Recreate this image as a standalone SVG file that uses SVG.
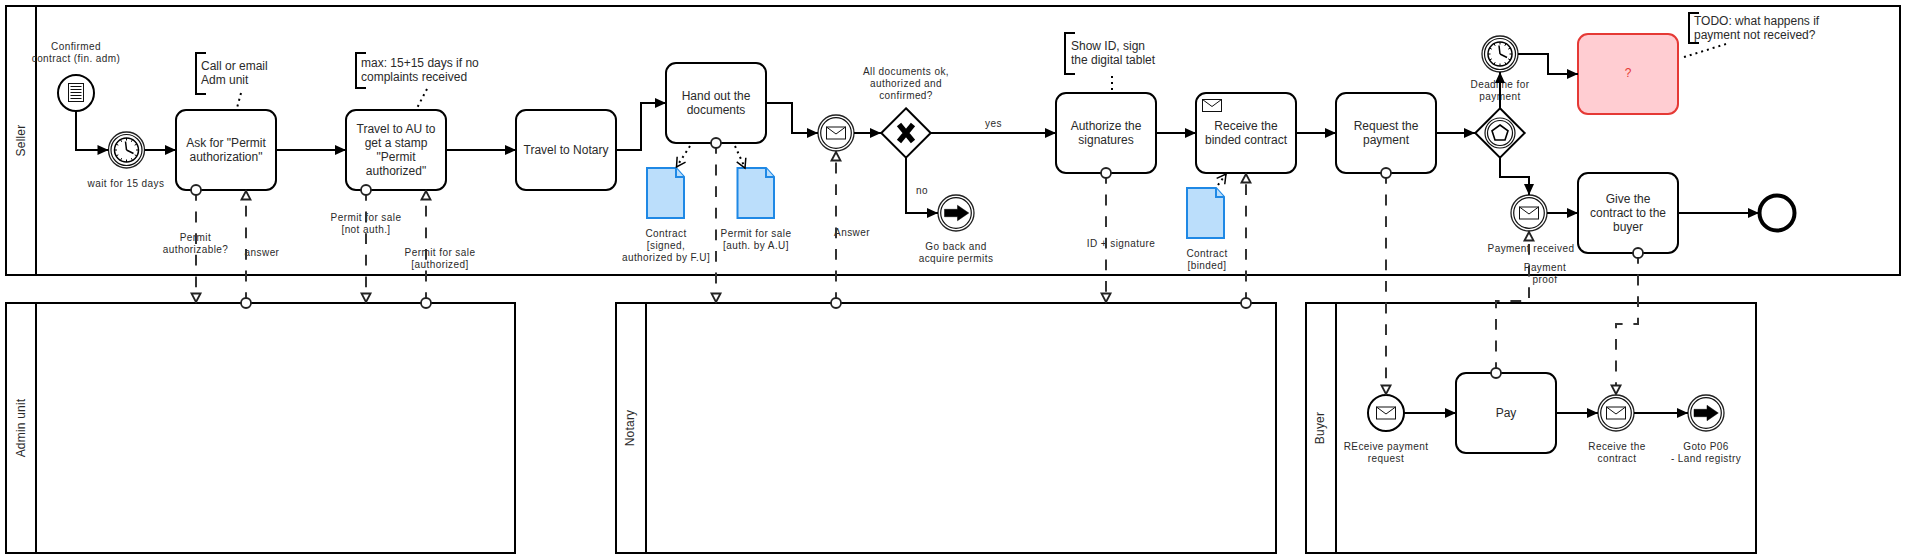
<svg xmlns="http://www.w3.org/2000/svg" xmlns:xlink="http://www.w3.org/1999/xlink" width="1906" height="559" viewBox="0 0 1906 559">
<style>
text{font-family:"Liberation Sans",Arial,sans-serif;fill:#2a2a2a}
.l{font-size:10px;text-anchor:middle;letter-spacing:.42px}
.t{font-size:12px;text-anchor:middle}
.a{font-size:12px}
.pl{font-size:12px;text-anchor:middle;letter-spacing:.2px}
.pool{fill:none;stroke:#000;stroke-width:2}
.task{fill:#fff;stroke:#000;stroke-width:2}
.ev{fill:#fff;stroke:#000;stroke-width:2}
.ie{fill:#fff;stroke:#222;stroke-width:1.3}
.in{fill:none;stroke:#111;stroke-width:1.2}
.seq{fill:none;stroke:#000;stroke-width:2;marker-end:url(#fill)}
.msg{fill:none;stroke:#333;stroke-width:2;stroke-dasharray:10.8 10.8;marker-end:url(#open)}
.dot{fill:none;stroke:#000;stroke-width:2;stroke-dasharray:2 4}
.dat{marker-end:url(#vee)}
.data{fill:#bbdefb;stroke:#1e88e5;stroke-width:2}
.ring{fill:#fff;stroke:#222;stroke-width:1.8}
.br{fill:none;stroke:#000;stroke-width:2}
</style>
<defs>
<marker id="fill" markerUnits="userSpaceOnUse" markerWidth="12" markerHeight="12" refX="11" refY="5" orient="auto" overflow="visible"><path d="M0 0L11 5L0 10z" fill="#000"/></marker>
<marker id="open" markerUnits="userSpaceOnUse" markerWidth="16" markerHeight="13" refX="11.500" refY="6.500" orient="auto" overflow="visible"><path d="M2 2L10.500 6.500L2 11z" fill="#fff" stroke="#222" stroke-width="1.800"/></marker>
<marker id="vee" markerUnits="userSpaceOnUse" markerWidth="14" markerHeight="14" refX="10" refY="6" orient="auto" overflow="visible"><path d="M1 1L10 6L1 11" fill="none" stroke="#000" stroke-width="1.500"/></marker>
<g id="env"><rect x="-9.500" y="-6" width="19" height="12" fill="#fff" stroke="#111" stroke-width="1"/><path d="M-9.500 -6L0 1L9.500 -6" fill="none" stroke="#111" stroke-width="1"/></g>
<g id="clock"><circle r="12" fill="#fff" stroke="#000" stroke-width="1.500"/><path stroke="#000" stroke-width="1" d="M0 -12V-9.500M0 12V9.500M-12 0H-9.500M12 0H9.500M6 -10.400L4.800 -8.200M-6 -10.400L-4.800 -8.200M6 10.400L4.800 8.200M-6 10.400L-4.800 8.200M10.400 6L8.200 4.800M-10.400 6L-8.200 4.800M10.400 -6L8.200 -4.800M-10.400 -6L-8.200 -4.800"/><path d="M0 0L-1 -8.500M0 0L7 3.500" fill="none" stroke="#000" stroke-width="1.500"/></g>
<path id="arrowi" d="M-12 -3.700H1V-7.700L12.300 0L1 7.700V3.700H-12z" fill="#000" stroke="#000" stroke-width=".5"/>
</defs>

<g id="pools">
<g id="pool-seller"><rect class="pool" x="6" y="6" width="1894" height="269"/><path class="pool" d="M36 6V275"/><text class="pl" transform="translate(24.500 140.500) rotate(-90)">Seller</text></g>
<g id="pool-admin"><rect class="pool" x="6" y="303" width="509" height="250"/><path class="pool" d="M36 303V553"/><text class="pl" transform="translate(24.500 428) rotate(-90)">Admin unit</text></g>
<g id="pool-notary"><rect class="pool" x="616" y="303" width="660" height="250"/><path class="pool" d="M646 303V553"/><text class="pl" transform="translate(634 428) rotate(-90)">Notary</text></g>
<g id="pool-buyer"><rect class="pool" x="1306" y="303" width="450" height="250"/><path class="pool" d="M1336 303V553"/><text class="pl" transform="translate(1324 428) rotate(-90)">Buyer</text></g>
</g>

<g id="start-confirmed"><circle class="ev" cx="76" cy="93" r="18"/><rect x="68.500" y="83.500" width="15" height="18" fill="#fff" stroke="#111"/><path d="M70.500 86.500H81.500M70.500 89.500H81.500M70.500 92.500H81.500M70.500 95.500H81.500M70.500 98.500H81.500" stroke="#111" fill="none"/><text class="l"><tspan x="76" y="50">Confirmed</tspan><tspan x="76" y="62">contract (fin. adm)</tspan></text></g>
<g id="timer-wait"><circle class="ie" cx="126.500" cy="150" r="18"/><circle class="in" cx="126.500" cy="150" r="15.500"/><use xlink:href="#clock" href="#clock" transform="translate(126.500 150)"/><text class="l" x="126" y="186.500">wait for 15 days</text></g>
<g id="task-ask"><rect class="task" x="176" y="110" width="100" height="80" rx="10"/><text class="t"><tspan x="226" y="147">Ask for "Permit</tspan><tspan x="226" y="161">authorization"</tspan></text></g>
<g id="task-travel-au"><rect class="task" x="346" y="110" width="100" height="80" rx="10"/><text class="t"><tspan x="396" y="133">Travel to AU to</tspan><tspan x="396" y="147">get a stamp</tspan><tspan x="396" y="161">"Permit</tspan><tspan x="396" y="175">authorized"</tspan></text></g>
<g id="task-travel-notary"><rect class="task" x="516" y="110" width="100" height="80" rx="10"/><text class="t" x="566" y="154">Travel to Notary</text></g>
<g id="task-hand-out"><rect class="task" x="666" y="63" width="100" height="80" rx="10"/><text class="t"><tspan x="716" y="100">Hand out the</tspan><tspan x="716" y="114">documents</tspan></text></g>
<g id="event-answer"><circle class="ie" cx="836" cy="133" r="18"/><circle class="in" cx="836" cy="133" r="15.300"/><use xlink:href="#env" href="#env" transform="translate(836 133)"/></g>
<g id="gateway-docs"><path class="ev" d="M906 108.300L930.700 133L906 157.700L881.300 133z"/><path d="M899 124.500L913 141.500M913 124.500L899 141.500" fill="none" stroke="#000" stroke-width="5.500"/><text class="l"><tspan x="906" y="74.500">All documents ok,</tspan><tspan x="906" y="86.500">authorized and</tspan><tspan x="906" y="98.500">confirmed?</tspan></text></g>
<g id="event-goback"><circle class="ie" cx="956" cy="213" r="18"/><circle class="in" cx="956" cy="213" r="15.300"/><use xlink:href="#arrowi" href="#arrowi" transform="translate(956.500 213)"/><text class="l"><tspan x="956" y="249.500">Go back and</tspan><tspan x="956" y="261.500">acquire permits</tspan></text></g>
<g id="task-authorize"><rect class="task" x="1056" y="93" width="100" height="80" rx="10"/><text class="t"><tspan x="1106" y="130">Authorize the</tspan><tspan x="1106" y="144">signatures</tspan></text></g>
<g id="task-receive-binded"><rect class="task" x="1196" y="93" width="100" height="80" rx="10"/><use xlink:href="#env" href="#env" transform="translate(1212 105.500)"/><text class="t"><tspan x="1246" y="130">Receive the</tspan><tspan x="1246" y="144">binded contract</tspan></text></g>
<g id="task-request"><rect class="task" x="1336" y="93" width="100" height="80" rx="10"/><text class="t"><tspan x="1386" y="130">Request the</tspan><tspan x="1386" y="144">payment</tspan></text></g>
<g id="gateway-event"><path class="ev" d="M1500 108.300L1524.700 133L1500 157.700L1475.300 133z"/><circle class="in" cx="1500" cy="133" r="15"/><circle class="in" cx="1500" cy="133" r="12.500"/><path d="M1500 125L1508 130.800L1505 140H1495L1492 130.800z" fill="#fff" stroke="#000" stroke-width="1.600"/></g>
<g id="timer-deadline"><circle class="ie" cx="1500" cy="54" r="18"/><circle class="in" cx="1500" cy="54" r="15.500"/><use xlink:href="#clock" href="#clock" transform="translate(1500 54)"/><text class="l"><tspan x="1500" y="87.500">Deadline for</tspan><tspan x="1500" y="99.500">payment</tspan></text></g>
<g id="task-unknown"><rect x="1578" y="34" width="100" height="80" rx="10" fill="#ffcdd2" stroke="#e53935" stroke-width="2"/><text class="t" x="1628" y="77" style="fill:#e53935">?</text></g>
<g id="event-payment"><circle class="ie" cx="1529" cy="213" r="18"/><circle class="in" cx="1529" cy="213" r="15.300"/><use xlink:href="#env" href="#env" transform="translate(1529 213)"/><text class="l" x="1531" y="251.500">Payment received</text></g>
<g id="task-give"><rect class="task" x="1578" y="173" width="100" height="80" rx="10"/><text class="t"><tspan x="1628" y="203">Give the</tspan><tspan x="1628" y="217">contract to the</tspan><tspan x="1628" y="231">buyer</tspan></text></g>
<g id="end"><circle cx="1777" cy="213" r="17.500" fill="#fff" stroke="#000" stroke-width="4"/></g>
<g id="start-request"><circle class="ev" cx="1386" cy="413" r="18"/><use xlink:href="#env" href="#env" transform="translate(1386 413)"/><text class="l"><tspan x="1386" y="449.500">REceive payment</tspan><tspan x="1386" y="461.500">request</tspan></text></g>
<g id="task-pay"><rect class="task" x="1456" y="373" width="100" height="80" rx="10"/><text class="t" x="1506" y="417">Pay</text></g>
<g id="event-receive"><circle class="ie" cx="1616" cy="413" r="18"/><circle class="in" cx="1616" cy="413" r="15.300"/><use xlink:href="#env" href="#env" transform="translate(1616 413)"/><text class="l"><tspan x="1617" y="449.500">Receive the</tspan><tspan x="1617" y="461.500">contract</tspan></text></g>
<g id="event-goto"><circle class="ie" cx="1706" cy="413" r="18"/><circle class="in" cx="1706" cy="413" r="15.300"/><use xlink:href="#arrowi" href="#arrowi" transform="translate(1706 413)"/><text class="l"><tspan x="1706" y="449.500">Goto P06</tspan><tspan x="1706" y="461.500">- Land registry</tspan></text></g>

<g id="data-contract"><path class="data" d="M647 168H676L684 177V218H647z"/><path class="data" d="M676 168V177H684"/><text class="l"><tspan x="666" y="236.500">Contract</tspan><tspan x="666" y="248.500">[signed,</tspan><tspan x="666" y="260.500">authorized by F.U]</tspan></text></g>
<g id="data-permit"><path class="data" d="M737.500 168H766L774 177V218H737.500z"/><path class="data" d="M766 168V177H774"/><text class="l"><tspan x="756" y="236.500">Permit for sale</tspan><tspan x="756" y="248.500">[auth. by A.U]</tspan></text></g>
<g id="data-binded"><path class="data" d="M1187 188H1216L1224 197V238H1187z"/><path class="data" d="M1216 188V197H1224"/><text class="l"><tspan x="1207" y="256.500">Contract</tspan><tspan x="1207" y="268.500">[binded]</tspan></text></g>

<g id="note-call"><path class="br" d="M206 53H196V94H206"/><text class="a"><tspan x="201" y="70">Call or email</tspan><tspan x="201" y="84">Adm unit</tspan></text></g>
<g id="note-max"><path class="br" d="M366 53H356V88H366"/><text class="a"><tspan x="361" y="67">max: 15+15 days if no</tspan><tspan x="361" y="81">complaints received</tspan></text></g>
<g id="note-show"><path class="br" d="M1075 33H1065V74H1075"/><text class="a"><tspan x="1071" y="50">Show ID, sign</tspan><tspan x="1071" y="64">the digital tablet</tspan></text></g>
<g id="note-todo"><path class="br" d="M1699 13H1689V43H1699"/><text class="a"><tspan x="1694" y="25">TODO: what happens if</tspan><tspan x="1694" y="39">payment not received?</tspan></text></g>

<g id="flow-labels">
<text class="l"><tspan x="195.500" y="240.500">Permit</tspan><tspan x="195.500" y="252.500">authorizable?</tspan></text>
<text class="l" x="262" y="255.500">answer</text>
<text class="l"><tspan x="366" y="220.500">Permit for sale</tspan><tspan x="366" y="232.500">[not auth.]</tspan></text>
<text class="l"><tspan x="440" y="255.500">Permit for sale</tspan><tspan x="440" y="267.500">[authorized]</tspan></text>
<text class="l" x="852" y="235.500">Answer</text>
<text class="l" x="993.500" y="126.500">yes</text>
<text class="l" x="922" y="193.500">no</text>
<text class="l" x="1121" y="246.500">ID + signature</text>
<text class="l"><tspan x="1545" y="270.500">Payment</tspan><tspan x="1545" y="282.500">proof</tspan></text>
</g>

<g id="connectors">
<path class="seq" d="M76 111V150H108.500"/>
<path class="seq" d="M144.500 150H176"/>
<path class="seq" d="M276 150H346"/>
<path class="seq" d="M446 150H516"/>
<path class="seq" d="M616 150H641V103H666"/>
<path class="seq" d="M766 103H792V133H818"/>
<path class="seq" d="M854 133H881"/>
<path class="seq" d="M931 133H1056"/>
<path class="seq" d="M906 158V213H938"/>
<path class="seq" d="M1156 133H1196"/>
<path class="seq" d="M1296 133H1336"/>
<path class="seq" d="M1436 133H1475"/>
<path class="seq" d="M1500 108V72"/>
<path class="seq" d="M1500 158V177H1529V195"/>
<path class="seq" d="M1518 54H1548V74H1578"/>
<path class="seq" d="M1547 213H1578"/>
<path class="seq" d="M1678 213H1759"/>
<path class="seq" d="M1404 413H1456"/>
<path class="seq" d="M1556 413H1598"/>
<path class="seq" d="M1634 413H1688"/>
<path class="msg" d="M196 190V303"/>
<path class="msg" d="M246 303V190"/>
<path class="msg" d="M366 190V303"/>
<path class="msg" d="M426 303V190"/>
<path class="msg" d="M716 143V303"/>
<path class="msg" d="M836 303V151"/>
<path class="msg" d="M1106 173V303"/>
<path class="msg" d="M1246 303V173"/>
<path class="msg" d="M1386 173V395"/>
<path class="msg" d="M1496 373V301H1529V231"/>
<path class="msg" d="M1638 253V324H1616V395"/>
<path class="dot" d="M241 93L237 108"/>
<path class="dot" d="M427 89L417 108"/>
<path class="dot" d="M1112 76V90"/>
<path class="dot" d="M1726 44L1681 58"/>
<path class="dot dat" d="M690 146L676.500 167"/>
<path class="dot dat" d="M735 146L745 168"/>
<path class="dot dat" d="M1218 185L1226 174"/>
<g id="msg-starts">
<circle class="ring" cx="196" cy="190" r="5"/><circle class="ring" cx="246" cy="303" r="5"/><circle class="ring" cx="366" cy="190" r="5"/><circle class="ring" cx="426" cy="303" r="5"/><circle class="ring" cx="716" cy="143" r="5"/><circle class="ring" cx="836" cy="303" r="5"/><circle class="ring" cx="1106" cy="173" r="5"/><circle class="ring" cx="1246" cy="303" r="5"/><circle class="ring" cx="1386" cy="173" r="5"/><circle class="ring" cx="1496" cy="373" r="5"/><circle class="ring" cx="1638" cy="253" r="5"/>
</g>
</g>
</svg>
